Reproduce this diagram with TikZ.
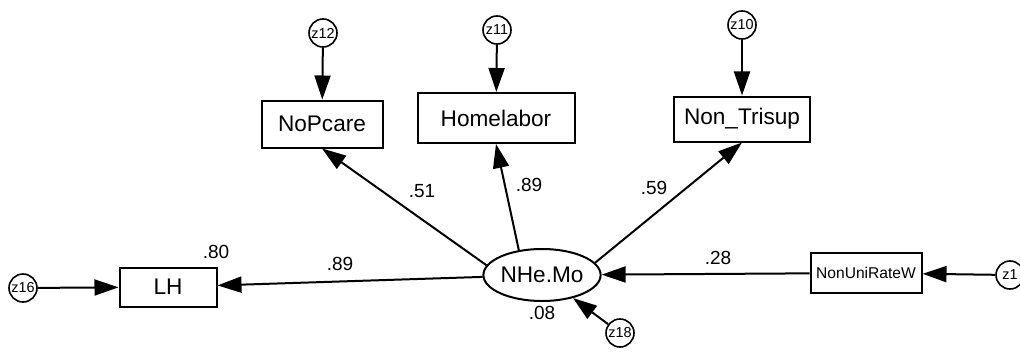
\documentclass[tikz,border=0pt]{standalone}
\usepackage{fontspec}
\setmainfont{Liberation Sans}
\usetikzlibrary{arrows.meta,shapes.geometric}

\begin{document}
\begin{tikzpicture}[x=0.5pt,y=-0.5pt,
    obs/.style={draw,line width=1pt,inner sep=0pt,font=\fontsize{11.3}{13}\selectfont},
    err/.style={draw,circle,line width=0.8pt,minimum size=14pt,inner sep=0pt,font=\fontsize{7.2}{8}\selectfont},
    coef/.style={font=\fontsize{9.5}{11}\selectfont},
    reg/.style={line width=1pt,-{Triangle[length=12pt,width=8pt]}}]
          \useasboundingbox (0,0) rectangle (1020,353);
          % latent factor and its indicators
          \node[obs,ellipse,minimum width=55pt,minimum height=26pt] (nhe) at (542,275) {NHe.Mo};
          \node[obs,minimum width=60.5pt,minimum height=23.5pt] (nopcare) at (322,124) {NoPcare};
          \node[obs,minimum width=78.5pt,minimum height=25pt] (homelabor) at (496,118) {Homelabor};
          \node[obs,minimum width=68pt,minimum height=22.5pt] (nontrisup) at (742,119) {Non\_Trisup};
          \node[obs,minimum width=48.5pt,minimum height=19.5pt] (lh) at (168,287) {LH};
          \node[obs,minimum width=55.5pt,minimum height=20pt,font=\fontsize{7.8}{9}\selectfont] (nonuni) at (866,273) {NonUniRateW};
          % error terms
          \node[err] (z12) at (323,33) {z12};
          \node[err] (z11) at (497,30) {z11};
          \node[err] (z10) at (742,25) {z10};
          \node[err] (z16) at (23,288) {z16};
          \node[err] (z18) at (620,333) {z18};
          \node[err] (z1) at (1010,275) {z1};
          % paths
          \draw[reg] (nhe.170) -- (nopcare.south);
          \draw[reg] (nhe.133) -- (homelabor.south);
          \draw[reg] (nhe.13) -- (nontrisup.south);
          \draw[reg] (nhe) -- (lh);
          \draw[reg] (nonuni) -- (nhe);
          \draw[reg] (z18) -- (nhe);
          \draw[reg] (z12) -- (nopcare);
          \draw[reg] (z11) -- (homelabor);
          \draw[reg] (z10) -- (nontrisup);
          \draw[reg] (z16) -- (lh);
          \draw[reg] (z1) -- (nonuni);
          % estimates
          \node[coef] (c-lh) at (216,252) {.80};
          \node[coef] (c-nhe-lh) at (340,264) {.89};
          \node[coef] (c-nopcare) at (422,191) {.51};
          \node[coef] (c-homelabor) at (529,185) {.89};
          \node[coef] (c-nontrisup) at (654,188) {.59};
          \node[coef] (c-nonuni) at (718,258) {.28};
          \node[coef] (c-nhe) at (542,313) {.08};
        \end{tikzpicture}
\end{document}
